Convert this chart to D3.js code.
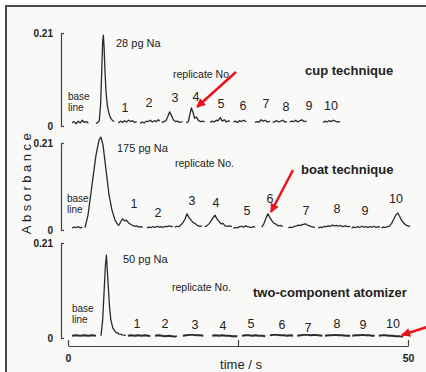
<!DOCTYPE html>
<html><head><meta charset="utf-8">
<script src="https://cdn.jsdelivr.net/npm/d3@7"></script>
<style>body{margin:0;background:#fff}svg{display:block}text{font-family:"Liberation Sans",Arial,sans-serif;fill:#222}</style>
</head><body><svg id="c" width="426" height="372"></svg>
<script>
// ---------- data ----------
const timeTicks = [0, 25, 50];
const timeTickLabels = ["0", "", "50"];
const absTicks = [0, 0.21];
const absTickLabels = ["0", "0.21"];
const replicateNos = ["1","2","3","4","5","6","7","8","9","10"];
const panelTitles = ["cup technique", "boat technique", "two-component atomizer"];
const sampleLabels = ["28 pg Na", "175 pg Na", "50 pg Na"];
const axisTitleY = "Absorbance";
const axisTitleX = "time / s";

// traces: segments of [time s, absorbance]
const cupTrace = [
 [[0.6,.007],[0.9,.010],[1.2,.005],[1.5,.011],[1.8,.007],[2.1,.013],[2.4,.008],[2.7,.010],[3.0,.006]],
 [[4.1,.006],[4.4,.008],[4.6,.012],[4.8,.05],[4.95,.12],[5.1,.19],[5.2,.205],[5.3,.18],[5.45,.12],[5.6,.075],[5.8,.045],[6.0,.03],[6.2,.02],[6.4,.015],[6.6,.012],[6.8,.01]],
 [[7.4,.007],[7.7,.011],[8.0,.008],[8.3,.012],[8.6,.009],[8.9,.013],[9.2,.010],[9.5,.012],[9.8,.008],[10.1,.010]],
 [[10.6,.006],[10.9,.009],[11.2,.007],[11.5,.011],[11.8,.010],[12.1,.013],[12.4,.009],[12.7,.012],[13.0,.010],[13.3,.014],[13.5,.011]],
 [[13.8,.008],[14.1,.010],[14.4,.012],[14.7,.022],[14.95,.032],[15.2,.024],[15.5,.014],[15.8,.010],[16.1,.011],[16.4,.008],[16.8,.010]],
 [[17.4,.007],[17.7,.010],[17.9,.025],[18.15,.041],[18.4,.030],[18.6,.018],[18.9,.020],[19.2,.012],[19.5,.010],[19.8,.011],[20.1,.009]],
 [[20.9,.008],[21.2,.011],[21.5,.009],[21.8,.013],[22.1,.012],[22.4,.019],[22.7,.011],[23.0,.014],[23.3,.009],[23.6,.012],[23.8,.010]],
 [[24.3,.009],[24.6,.011],[24.9,.008],[25.2,.012],[25.5,.010],[25.8,.013],[26.2,.010]],
 [[27.5,.008],[27.8,.010],[28.1,.009],[28.4,.014],[28.7,.011],[29.0,.013],[29.3,.009],[29.7,.011]],
 [[30.1,.008],[30.4,.010],[30.7,.012],[31.0,.009],[31.3,.011],[31.6,.013],[31.9,.009],[32.2,.010]],
 [[32.6,.009],[32.9,.011],[33.2,.010],[33.5,.013],[33.8,.009],[34.1,.012],[34.4,.014],[34.7,.010],[35.1,.011]],
 [[37.5,.008],[37.8,.011],[38.1,.009],[38.4,.012],[38.7,.010],[39.0,.013],[39.3,.011],[39.6,.009],[40.0,.010]]
];
const boatTrace = [
 [[0.6,.005],[0.9,.007],[1.2,.006],[1.5,.008],[1.8,.005],[2.1,.007]],
 [[2.5,.006],[2.94,.036],[3.53,.109],[4.12,.181],[4.56,.217],[4.85,.224],[5.15,.205],[5.59,.145],[6.03,.085],[6.47,.048],[6.91,.024],[7.35,.012]],
 [[7.4,.010],[7.7,.018],[8.0,.027],[8.3,.022],[8.6,.024],[8.9,.017],[9.2,.014],[9.5,.011],[9.8,.009],[10.1,.010],[10.4,.007],[10.7,.008],[11.0,.006]],
 [[11.6,.005],[11.9,.007],[12.2,.006],[12.5,.008],[12.8,.006],[13.1,.009],[13.4,.007],[13.7,.008],[14.0,.006],[14.3,.009],[14.6,.008],[14.9,.010],[15.2,.008],[15.4,.009]],
 [[15.7,.007],[16.0,.009],[16.3,.008],[16.6,.012],[16.9,.018],[17.2,.026],[17.5,.039],[17.8,.030],[18.1,.024],[18.4,.018],[18.7,.016],[19.0,.011],[19.4,.009],[19.7,.010]],
 [[20.1,.008],[20.4,.010],[20.8,.016],[21.2,.026],[21.6,.036],[21.9,.027],[22.2,.021],[22.5,.015],[22.8,.016],[23.1,.010],[23.5,.009],[23.8,.010],[24.1,.008]],
 [[24.3,.004],[24.6,.006],[24.9,.005],[25.2,.008],[25.5,.009],[25.8,.007],[26.1,.010],[26.4,.008],[26.7,.007],[27.0,.006],[27.3,.008],[27.5,.007]],
 [[28.5,.007],[28.8,.015],[29.1,.028],[29.4,.039],[29.7,.030],[30.0,.022],[30.3,.016],[30.6,.014],[30.9,.010],[31.2,.011],[31.6,.009]],
 [[32.4,.005],[32.7,.007],[33.0,.006],[33.3,.009],[33.6,.010],[33.9,.012],[34.2,.011],[34.5,.013],[34.9,.015],[35.2,.012],[35.5,.010],[35.8,.008],[36.1,.007],[36.3,.006]],
 [[36.8,.005],[37.1,.007],[37.4,.006],[37.7,.009],[38.0,.008],[38.3,.010],[38.6,.009],[38.9,.012],[39.2,.010],[39.5,.011],[39.8,.009],[40.1,.011],[40.4,.008],[40.8,.010],[41.1,.008],[41.5,.009]],
 [[41.7,.005],[42.0,.007],[42.3,.006],[42.6,.008],[42.9,.006],[43.2,.009],[43.5,.007],[43.8,.008],[44.1,.006],[44.4,.008],[44.7,.007],[45.0,.009],[45.3,.006],[45.6,.008],[45.9,.007]],
 [[46.1,.005],[46.4,.007],[46.7,.006],[47.0,.008],[47.3,.010],[47.6,.016],[47.9,.026],[48.2,.036],[48.5,.041],[48.8,.032],[49.1,.022],[49.4,.016],[49.7,.012],[50.0,.010],[50.3,.008]]
];
const twoCompTrace = [
 [[0.6,.005],[1.2,.006],[1.8,.005],[2.4,.006],[3.0,.005],[3.6,.006],[4.1,.005]],
 [[4.85,.005],[5.1,.04],[5.3,.10],[5.5,.16],[5.65,.183],[5.9,.12],[6.1,.07],[6.3,.04],[6.6,.022],[7.0,.013],[7.5,.009],[8.0,.007],[8.5,.006]],
 [[8.8,.005],[9.3,.006],[9.8,.005],[10.3,.006],[10.8,.005],[11.3,.006],[11.8,.005],[12.1,.004]],
 [[12.8,.005],[13.3,.006],[13.8,.005],[14.3,.004],[14.8,.005],[15.3,.004],[15.7,.003],[16.0,.004]],
 [[16.9,.005],[17.4,.006],[17.9,.007],[18.4,.007],[18.9,.006],[19.4,.006],[19.9,.005]],
 [[21.2,.005],[21.7,.006],[22.2,.005],[22.7,.006],[23.2,.005],[23.7,.005],[24.2,.004],[24.9,.004]],
 [[25.6,.005],[26.1,.006],[26.6,.006],[27.1,.005],[27.6,.006],[28.1,.005],[28.6,.005],[29.0,.004]],
 [[29.7,.006],[30.2,.007],[30.7,.007],[31.2,.006],[31.7,.006],[32.2,.005],[32.7,.006],[33.1,.005]],
 [[33.7,.005],[34.2,.006],[34.7,.007],[35.2,.007],[35.7,.006],[36.2,.007],[36.8,.006],[37.4,.005]],
 [[37.8,.005],[38.3,.006],[38.8,.006],[39.3,.007],[39.8,.006],[40.3,.006],[40.9,.005],[41.5,.005]],
 [[41.8,.005],[42.3,.006],[42.8,.006],[43.3,.007],[43.8,.006],[44.3,.006],[44.7,.005],[45.1,.005]],
 [[45.7,.005],[46.2,.006],[46.7,.006],[47.2,.005],[47.7,.005],[48.2,.004],[48.7,.004],[49.3,.003]]
];
const traces = [cupTrace, boatTrace, twoCompTrace];

// ---------- layout ----------
const layout = [
 {top:33, bottom:126, sw:1.3, sample:[116,47], rep:[173,78], title:[305,75], base:[68,100,111],
  nums:[[125,107],[149,102],[175,97],[196,96],[221,103],[243,105],[266,103],[286,106],[309,105],[331,105]],
  arrow:[[236,72],[197,107]]},
 {top:143, bottom:230, sw:1.3, sample:[117,152], rep:[175,167], title:[301,174], base:[67,202,213],
  nums:[[134,203],[158,212],[192,200],[216,202],[247,210],[270,198],[306,210],[337,208],[365,210],[396,198]],
  arrow:[[293,170],[271,212]]},
 {top:243, bottom:338, sw:1.9, sample:[123,263], rep:[172,291], title:[253,297], base:[72,312,323],
  nums:[[137,323],[165,323],[195,324],[223,325],[251,323],[282,324],[308,327],[337,323],[363,324],[393,323]],
  arrow:[[427,327],[402,335]]}
];

const svg = d3.select("#c");
svg.append("rect").attr("width",426).attr("height",372).attr("fill","#fff");
svg.append("rect").attr("x",6).attr("y",6).attr("width",430).attr("height",380)
  .attr("fill","#f9f9f8").attr("stroke","#4a4a4a").attr("stroke-width",2);

const defs = svg.append("defs");
defs.append("marker").attr("id","ah").attr("viewBox","0 0 10 10").attr("refX",9).attr("refY",5)
  .attr("markerWidth",10).attr("markerHeight",9).attr("markerUnits","userSpaceOnUse").attr("orient","auto")
  .append("path").attr("d","M0,0L10,5L0,10z").attr("fill","#e8141c");

const x = d3.scaleLinear().domain([0,50]).range([68,408]);

layout.forEach((L, i) => {
  const y = d3.scaleLinear().domain([0,0.21]).range([L.bottom, L.top]);
  const g = svg.append("g");
  // bracket axis
  const ax = g.append("g").attr("transform","translate(61,0)")
    .call(d3.axisLeft(y).tickValues(absTicks).tickFormat((d,k)=>absTickLabels[k])
      .tickSizeInner(-3).tickSizeOuter(0).tickPadding(8));
  ax.selectAll("path,line").attr("stroke","#444").attr("stroke-width",1.2);
  ax.selectAll("text").attr("font-size",10).attr("font-weight","bold")
    .attr("font-family","'Liberation Sans',Arial,sans-serif").attr("fill","#222");
  // trace (main peak drawn thin, replicate segments with panel stroke)
  const line = d3.line().x(d=>x(d[0])).y(d=>y(d[1])).curve(d3.curveLinear);
  g.selectAll("path.tr").data(traces[i]).join("path").attr("class","tr")
    .attr("d", line).attr("fill","none").attr("stroke","#2b2b2b")
    .attr("stroke-width", (d,k)=> k===1 ? 1.3 : L.sw).attr("stroke-linejoin","round");
  // labels
  g.append("text").attr("x",L.sample[0]).attr("y",L.sample[1]).attr("font-size",11).text(sampleLabels[i]);
  g.append("text").attr("x",L.rep[0]).attr("y",L.rep[1]).attr("font-size",10.5).text("replicate No.");
  g.append("text").attr("x",L.title[0]).attr("y",L.title[1]).attr("font-size",13).attr("font-weight","bold").text(panelTitles[i]);
  g.append("text").attr("x",L.base[0]).attr("y",L.base[1]).attr("font-size",10).text("base");
  g.append("text").attr("x",L.base[0]).attr("y",L.base[2]).attr("font-size",10).text("line");
  g.selectAll("text.num").data(replicateNos).join("text").attr("class","num")
    .attr("x",(d,k)=>L.nums[k][0]).attr("y",(d,k)=>L.nums[k][1]).attr("dy","0.36em")
    .attr("text-anchor","middle").attr("font-size",12.5).text(d=>d);
  // arrow
  g.append("line").attr("x1",L.arrow[0][0]).attr("y1",L.arrow[0][1])
    .attr("x2",L.arrow[1][0]).attr("y2",L.arrow[1][1])
    .attr("stroke","#e8141c").attr("stroke-width",2.5).attr("marker-end","url(#ah)");
});

// x axis (bottom panel)
const xa = svg.append("g").attr("transform","translate(0,346)")
  .call(d3.axisBottom(x).tickValues(timeTicks).tickFormat((d,k)=>timeTickLabels[k])
    .tickSizeInner(-6).tickSizeOuter(0).tickPadding(9));
xa.selectAll("path,line").attr("stroke","#444").attr("stroke-width",1.2);
xa.selectAll("text").attr("font-size",10.5).attr("font-weight","bold")
  .attr("font-family","'Liberation Sans',Arial,sans-serif").attr("fill","#222");
svg.append("text").attr("x",241).attr("y",369).attr("text-anchor","middle").attr("font-size",13).text(axisTitleX);

// y title
svg.append("text").attr("transform","translate(31,182) rotate(-90)").attr("text-anchor","middle")
  .attr("font-size",13).attr("letter-spacing","3.5px").text(axisTitleY);
</script></body></html>
